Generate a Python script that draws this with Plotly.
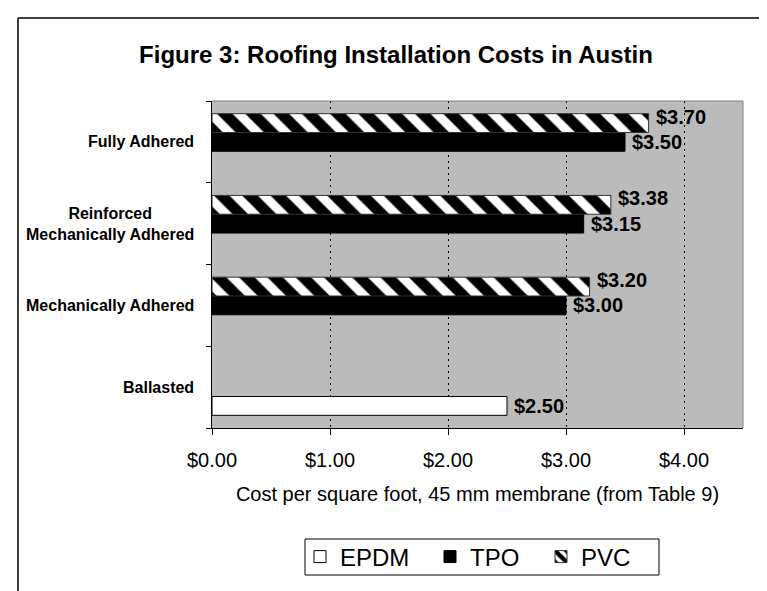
import plotly.graph_objects as go

# ---- data ----
categories = ["Ballasted", "Mechanically Adhered",
              "Reinforced<br>Mechanically Adhered", "Fully Adhered"]
series_names = ["EPDM", "TPO", "PVC"]
epdm = [2.50, None, None, None]
tpo = [None, 3.00, 3.15, 3.50]
pvc = [None, 3.20, 3.38, 3.70]
x_tick_vals = [0, 1, 2, 3, 4]
x_tick_text = ["$0.00", "$1.00", "$2.00", "$3.00", "$4.00"]

FONT = "Liberation Sans, Arial, sans-serif"
W, H = 767, 591
ML, MR, MT, MB = 204, 32, 93, 171
PW, PH = W - ML - MR, H - MT - MB


def px_x(p):
    return (p - ML) / PW


def px_y(p):
    return (MT + PH - p) / PH


fig = go.Figure()
fig.add_trace(go.Bar(y=categories, x=epdm, orientation="h", name=series_names[0],
                     legendwidth=85,
                     marker=dict(color="white", line=dict(color="black", width=1))))
fig.add_trace(go.Bar(y=categories, x=tpo, orientation="h", name=series_names[1],
                     legendwidth=66,
                     marker=dict(color="black", line=dict(color="black", width=1))))
fig.add_trace(go.Bar(y=categories, x=pvc, orientation="h", name=series_names[2],
                     legendwidth=60,
                     marker=dict(color="white",
                                 pattern=dict(shape="\\", fgcolor="#000000", bgcolor="#FFFFFF",
                                              fgopacity=1, size=20, solidity=0.55,
                                              fillmode="replace"),
                                 line=dict(color="#333333", width=1))))

annotations = []
# category labels (right-aligned block, centered lines)
for i, c in enumerate(categories):
    annotations.append(dict(x=px_x(188), xref="paper", y=i, yref="y",
                            text="<b>" + c + "</b>", showarrow=False,
                            xanchor="right", align="center",
                            font=dict(family=FONT, size=16, color="black")))
# value labels
offsets = [-0.23, 0.0, 0.31]
for vals, off in zip([epdm, tpo, pvc], offsets):
    for i, v in enumerate(vals):
        if v is None:
            continue
        annotations.append(dict(x=v, xref="x", y=i + off, yref="y",
                                text="<b>$%.2f</b>" % v, showarrow=False,
                                xanchor="left", yanchor="middle", xshift=5,
                                font=dict(family=FONT, size=20, color="black")))

shapes = [
    # plot area top / right border (gray)
    dict(type="line", xref="paper", yref="paper", x0=0, x1=1, y0=1, y1=1,
         line=dict(color="#808080", width=1)),
    dict(type="line", xref="paper", yref="paper", x0=1, x1=1, y0=0, y1=1,
         line=dict(color="#808080", width=1)),
    # outer chart frame (left and top edges visible)
    dict(type="line", xref="paper", yref="paper",
         x0=px_x(10), x1=px_x(W + 20), y0=px_y(10), y1=px_y(10),
         line=dict(color="black", width=1.5)),
    dict(type="line", xref="paper", yref="paper",
         x0=px_x(10), x1=px_x(10), y0=px_y(10), y1=px_y(H + 20),
         line=dict(color="black", width=1.5)),
    # legend box
    dict(type="rect", xref="paper", yref="paper",
         x0=px_x(297), x1=px_x(651), y0=px_y(531), y1=px_y(567),
         line=dict(color="black", width=1), fillcolor="rgba(0,0,0,0)", layer="below"),
]

fig.update_layout(
    width=W, height=H,
    margin=dict(l=ML, r=MR, t=MT, b=MB, pad=0),
    paper_bgcolor="white", plot_bgcolor="#BBBBBB",
    barmode="group", bargap=0.31, bargroupgap=0,
    font=dict(family=FONT, color="black"),
    title=dict(text="<b>Figure 3: Roofing Installation Costs in Austin</b>",
               x=388 / W, xanchor="center", y=1 - 47 / H, yanchor="middle",
               font=dict(family=FONT, size=24, color="black")),
    xaxis=dict(range=[0, 4.5], tickvals=x_tick_vals, ticktext=x_tick_text,
               ticks="outside", ticklen=6, tickcolor="black", tickwidth=1,
               ticklabelstandoff=8,
               showline=True, linecolor="black", linewidth=1,
               showgrid=True, gridcolor="black", gridwidth=1, griddash="2px,4px",
               zeroline=False,
               tickfont=dict(family=FONT, size=20, color="black"),
               title=dict(text="Cost per square foot, 45 mm membrane (from Table 9)",
                          font=dict(family=FONT, size=20, color="black"),
                          standoff=16)),
    yaxis=dict(type="category", range=[-0.5, 3.5], tickson="boundaries",
               ticks="outside", ticklen=5, tickcolor="black", tickwidth=1,
               showline=True, linecolor="black", linewidth=1,
               showticklabels=False, showgrid=False, zeroline=False),
    legend=dict(orientation="h", x=px_x(292), xanchor="left",
                y=px_y(549), yanchor="middle",
                borderwidth=0, bgcolor="rgba(0,0,0,0)",
                font=dict(family=FONT, size=24, color="black"),
                traceorder="normal"),
    annotations=annotations,
    shapes=shapes,
    showlegend=True,
)

fig.write_html("out.html")
